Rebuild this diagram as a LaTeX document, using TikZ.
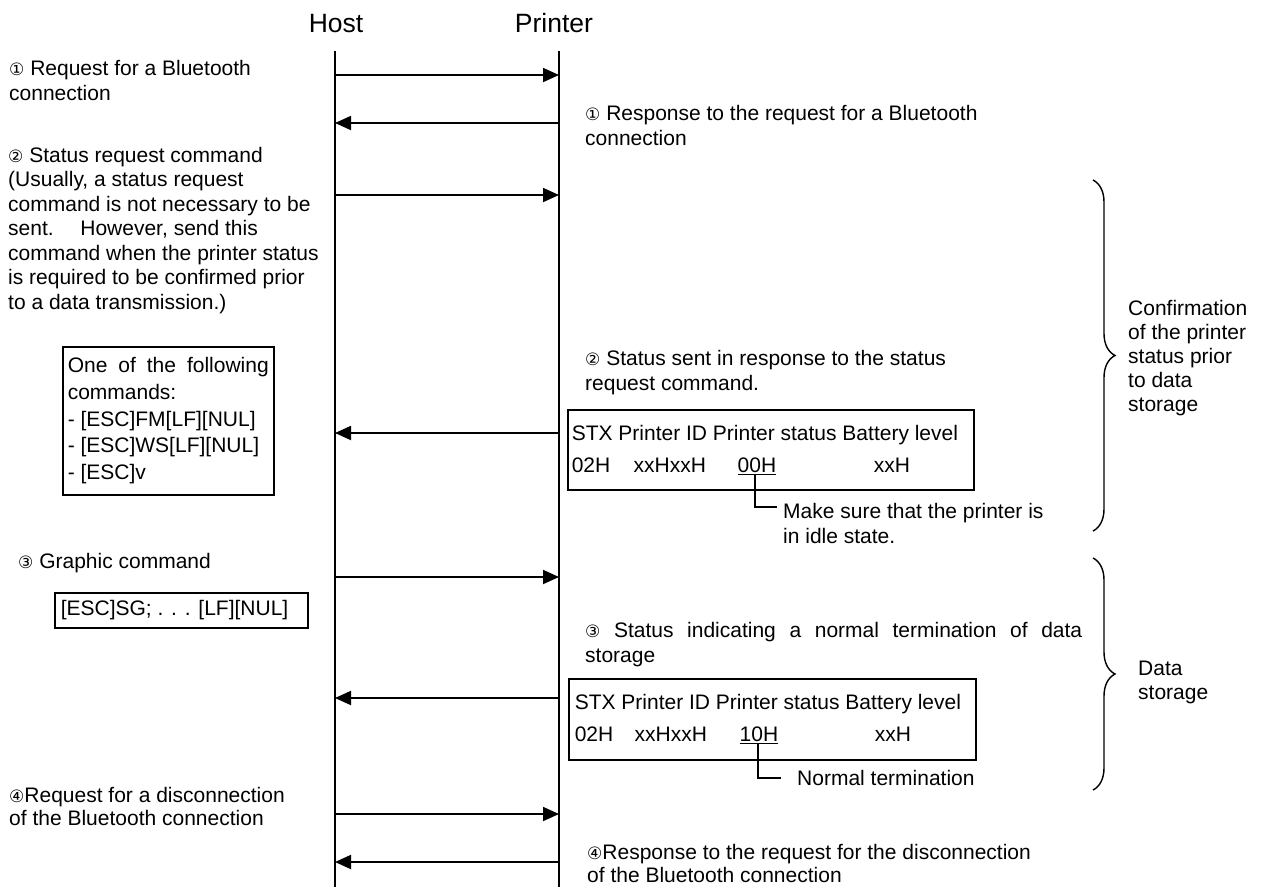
\documentclass[tikz,border=0pt]{standalone}
\usepackage{fontspec}
\setmainfont{Liberation Sans}
\newfontfamily\circfont{DejaVu Sans}
\usetikzlibrary{arrows.meta,decorations.pathreplacing}
\newcommand\cnum[1]{{\circfont\fontsize{17pt}{17pt}\selectfont #1}}
\begin{document}
\begin{tikzpicture}[x=1pt,y=-1pt,
  txt/.style={anchor=base west, inner sep=0pt, align=left, font=\fontsize{21pt}{24.5pt}\selectfont},
  titletxt/.style={anchor=base, inner sep=0pt, font=\fontsize{26.5pt}{30pt}\selectfont},
  lifeline/.style={line width=1.3pt},
  msg/.style={line width=1.8pt, -{Triangle[length=16pt,width=14pt]}},
  cmdbox/.style={draw, line width=1.5pt, anchor=north west, inner ysep=0pt, align=flush left},
  lead/.style={line width=1.3pt},
  groupbrace/.style={decorate, decoration={brace, amplitude=22pt}, line width=1.4pt}
]
\useasboundingbox (0,0) rectangle (1267,887);

% titles
\node[titletxt] (host) at (336,32) {Host};
\node[titletxt] (printer) at (554,32) {Printer};

% lifelines
\coordinate (hT) at (335,51);
\coordinate (hB) at (335,887);
\coordinate (pT) at (559,51);
\coordinate (pB) at (559,887);
\draw[lifeline] (hT) -- (hB);
\draw[lifeline] (pT) -- (pB);

% message coordinates
\foreach \i/\y in {1/75,2/123,3/195,4/433,5/577,6/698,7/814,8/862}{
  \coordinate (h\i) at (335,\y);
  \coordinate (p\i) at (559,\y);
}
\draw[msg] (h1) -- (p1);
\draw[msg] (p2) -- (h2);
\draw[msg] (h3) -- (p3);
\draw[msg] (p4) -- (h4);
\draw[msg] (h5) -- (p5);
\draw[msg] (p6) -- (h6);
\draw[msg] (h7) -- (p7);
\draw[msg] (p8) -- (h8);

% left texts (anchor = baseline of the last line)
\node[txt] (req1) at (9,100) {\cnum{①} Request for a Bluetooth\\connection};
\node[txt] (req2) at (8,309) {\cnum{②} Status request command\\(Usually, a status request\\command is not necessary to be\\sent.\hspace{0.9em} However, send this\\command when the printer status\\is required to be confirmed prior\\to a data transmission.)};
\node[cmdbox, minimum width=211pt, minimum height=148pt, inner xsep=5pt, text width=201pt,
      font=\fontsize{21pt}{26.7pt}\selectfont] (box1) at (62,346)
  {\makebox[201pt][s]{One\hfill of\hfill the\hfill following}\\commands:\\- [ESC]FM[LF][NUL]\\- [ESC]WS[LF][NUL]\\- [ESC]v};
\node[txt] (req3) at (18,568) {\cnum{③} Graphic command};
\node[cmdbox, minimum width=253pt, minimum height=35pt, inner xsep=6pt, text width=241pt,
      font=\fontsize{21pt}{24.5pt}\selectfont] (box3) at (54,592)
  {[ESC]SG; . . . [LF][NUL]};
\node[txt, font=\fontsize{21pt}{23pt}\selectfont] (req4) at (9,825) {\cnum{④}Request for a disconnection\\of the Bluetooth connection};

% right texts
\node[txt] (res1) at (585,145) {\cnum{①} Response to the request for a Bluetooth\\connection};
\node[txt] (res2) at (585,390) {\cnum{②} Status sent in response to the status\\request command.};
\node[cmdbox, minimum width=406pt, minimum height=80pt, inner xsep=4pt, text width=398pt,
      font=\fontsize{21pt}{24.5pt}\selectfont] (box2) at (567,409)
  {STX Printer ID Printer status Battery level\\[7.5pt]
   \makebox[62pt][l]{02H}\makebox[104pt][l]{xxHxxH}\makebox[136pt][l]{\underline{00H}}xxH};
\coordinate (u1) at (755,474);
\coordinate (n1) at (777,507);
\draw[lead] (u1) |- (n1);
\node[txt] (note1) at (783,543) {Make sure that the printer is\\in idle state.};

\node[txt] (res3) at (585,662) {\makebox[497pt][s]{\cnum{③} Status indicating a normal termination of data}\\storage};
\node[cmdbox, minimum width=407pt, minimum height=81pt, inner xsep=6pt, text width=395pt,
      font=\fontsize{21pt}{24.5pt}\selectfont] (box4) at (568,678)
  {STX Printer ID Printer status Battery level\\[7.5pt]
   \makebox[60pt][l]{02H}\makebox[105pt][l]{xxHxxH}\makebox[135pt][l]{\underline{10H}}xxH};
\coordinate (u2) at (758,743);
\coordinate (n2) at (781,778);
\draw[lead] (u2) |- (n2);
\node[txt] (note2) at (797,785) {Normal termination};

\node[txt, font=\fontsize{21pt}{23pt}\selectfont] (res4) at (587,882) {\cnum{④}Response to the request for the disconnection\\of the Bluetooth connection};

% braces
\coordinate (b1t) at (1093,180);
\coordinate (b1b) at (1093,531);
\coordinate (b2t) at (1093,558);
\coordinate (b2b) at (1093,790);
\draw[groupbrace] (b1t) -- (b1b);
\draw[groupbrace] (b2t) -- (b2b);
\node[txt, font=\fontsize{21pt}{24pt}\selectfont] (conf) at (1128,411) {Confirmation\\of the printer\\status prior\\to data\\storage};
\node[txt, font=\fontsize{21pt}{24pt}\selectfont] (datast) at (1138,699) {Data\\storage};
\end{tikzpicture}
\end{document}
